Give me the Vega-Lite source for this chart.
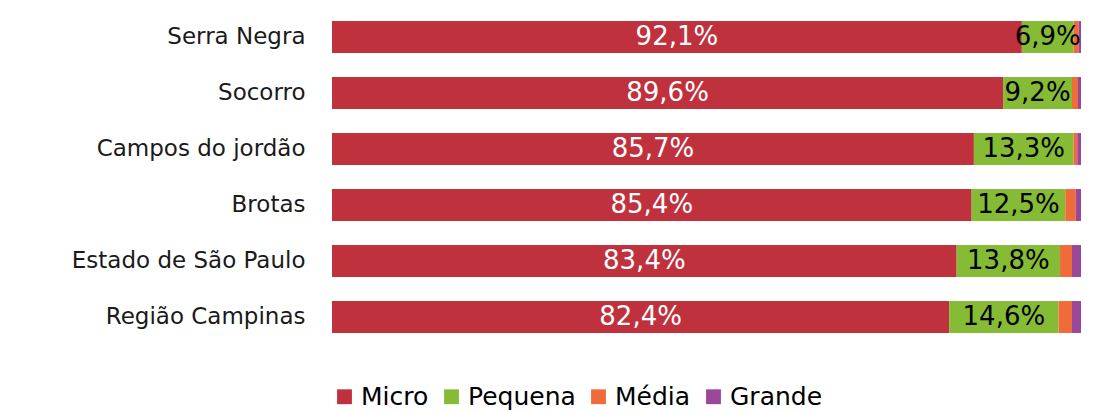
{
  "$schema": "https://vega.github.io/schema/vega-lite/v6.json",
  "autosize": "none",
  "width": 749,
  "height": 336,
  "padding": {"left": 332, "top": 9, "right": 23, "bottom": 67},
  "background": "white",
  "config": {"view": {"stroke": null}, "font": "DejaVu Sans"},
  "data": {
    "values": [
      {"cat": "Serra Negra", "size": "Micro", "ord": 1, "value": 92.1},
      {"cat": "Serra Negra", "size": "Pequena", "ord": 2, "value": 6.9},
      {"cat": "Serra Negra", "size": "Média", "ord": 3, "value": 0.7},
      {"cat": "Serra Negra", "size": "Grande", "ord": 4, "value": 0.3},
      {"cat": "Socorro", "size": "Micro", "ord": 1, "value": 89.6},
      {"cat": "Socorro", "size": "Pequena", "ord": 2, "value": 9.2},
      {"cat": "Socorro", "size": "Média", "ord": 3, "value": 0.8},
      {"cat": "Socorro", "size": "Grande", "ord": 4, "value": 0.4},
      {"cat": "Campos do jordão", "size": "Micro", "ord": 1, "value": 85.7},
      {"cat": "Campos do jordão", "size": "Pequena", "ord": 2, "value": 13.3},
      {"cat": "Campos do jordão", "size": "Média", "ord": 3, "value": 0.5},
      {"cat": "Campos do jordão", "size": "Grande", "ord": 4, "value": 0.5},
      {"cat": "Brotas", "size": "Micro", "ord": 1, "value": 85.4},
      {"cat": "Brotas", "size": "Pequena", "ord": 2, "value": 12.5},
      {"cat": "Brotas", "size": "Média", "ord": 3, "value": 1.4},
      {"cat": "Brotas", "size": "Grande", "ord": 4, "value": 0.7},
      {"cat": "Estado de São Paulo", "size": "Micro", "ord": 1, "value": 83.4},
      {"cat": "Estado de São Paulo", "size": "Pequena", "ord": 2, "value": 13.8},
      {"cat": "Estado de São Paulo", "size": "Média", "ord": 3, "value": 1.6},
      {"cat": "Estado de São Paulo", "size": "Grande", "ord": 4, "value": 1.2},
      {"cat": "Região Campinas", "size": "Micro", "ord": 1, "value": 82.4},
      {"cat": "Região Campinas", "size": "Pequena", "ord": 2, "value": 14.6},
      {"cat": "Região Campinas", "size": "Média", "ord": 3, "value": 1.8},
      {"cat": "Região Campinas", "size": "Grande", "ord": 4, "value": 1.2}
    ]
  },
  "encoding": {
    "y": {
      "field": "cat", "type": "nominal",
      "sort": ["Serra Negra", "Socorro", "Campos do jordão", "Brotas", "Estado de São Paulo", "Região Campinas"],
      "scale": {"paddingInner": 0.43, "paddingOuter": 0.215},
      "axis": {"title": null, "domain": false, "ticks": false, "labelFontSize": 23, "labelPadding": 27, "labelColor": "#1a1a1a", "labelLimit": 400}
    }
  },
  "layer": [
    {
      "mark": {"type": "bar"},
      "encoding": {
        "x": {"field": "value", "type": "quantitative", "stack": "zero", "scale": {"domain": [0, 100], "nice": false}, "axis": null},
        "order": {"field": "ord", "type": "quantitative"},
        "color": {
          "field": "size", "type": "nominal",
          "scale": {"domain": ["Micro", "Pequena", "Média", "Grande"], "range": ["#C0313E", "#86BC35", "#EF6B3A", "#9A4699"]},
          "legend": {"title": null, "orient": "bottom", "offset": 39, "labelFontSize": 25, "symbolType": "square", "symbolSize": 220}
        }
      }
    },
    {
      "transform": [
        {"window": [{"op": "sum", "field": "value", "as": "cum"}], "groupby": ["cat"], "sort": [{"field": "ord", "order": "ascending"}], "frame": [null, 0]},
        {"filter": "datum.ord == 1"},
        {"calculate": "datum.cum - datum.value / 2", "as": "mid"},
        {"calculate": "replace(format(datum.value, '.1f'), '.', ',') + '%'", "as": "label"}
      ],
      "mark": {"type": "text", "fontSize": 26, "baseline": "middle", "align": "center", "color": "white"},
      "encoding": {
        "x": {"field": "mid", "type": "quantitative"},
        "text": {"field": "label"}
      }
    },
    {
      "transform": [
        {"window": [{"op": "sum", "field": "value", "as": "cum"}], "groupby": ["cat"], "sort": [{"field": "ord", "order": "ascending"}], "frame": [null, 0]},
        {"filter": "datum.ord == 2"},
        {"calculate": "datum.cum - datum.value / 2", "as": "mid"},
        {"calculate": "replace(format(datum.value, '.1f'), '.', ',') + '%'", "as": "label"}
      ],
      "mark": {"type": "text", "fontSize": 26, "baseline": "middle", "align": "center", "color": "black"},
      "encoding": {
        "x": {"field": "mid", "type": "quantitative"},
        "text": {"field": "label"}
      }
    }
  ]
}
